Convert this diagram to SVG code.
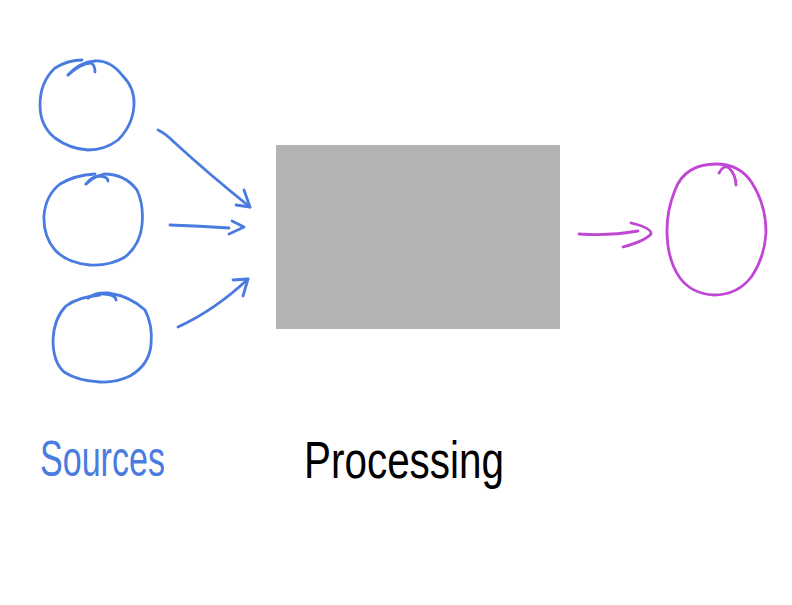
<svg xmlns="http://www.w3.org/2000/svg" width="792" height="605" viewBox="0 0 792 605">
<style>
.b{fill:none;stroke:#4a7be0;stroke-width:2.8;stroke-linecap:round;stroke-linejoin:round}
.p{fill:none;stroke:#c047d4;stroke-width:2.8;stroke-linecap:round;stroke-linejoin:round}
.t{font-family:"Liberation Sans",Arial,sans-serif;font-weight:normal}
</style>
<rect width="792" height="605" fill="#ffffff"/>
<g id="source1">
<path class="b" d="M68,75 Q80,62 95,61 Q110,60 122,75 Q135,88 134,105 Q133,125 118,140 Q105,150 88,150 Q70,149 55,138 Q40,126 40,105 Q40,82 55,68 Q68,60 82,60"/>
<path class="b" d="M68,75 Q80,64 90,63 Q95,64 95,72"/>
</g>
<g id="source2">
<path class="b" d="M86,184 Q95,176 104,174 Q125,174 137,190 Q144,205 142,225 Q140,245 125,257 Q110,266 90,265 Q67,263 55,250 Q43,236 44,215 Q46,195 60,184 Q75,175 95,174"/>
<path class="b" d="M86,184 Q92,176 100,176 Q108,177 108,181"/>
</g>
<g id="source3">
<path class="b" d="M88,298 Q96,292 108,293 Q130,296 145,310 Q153,325 151,345 Q149,365 130,376 Q115,383 100,382 Q78,381 64,372 Q53,362 53,340 Q54,318 66,306 Q78,297 100,295"/>
<path class="b" d="M88,298 Q96,293 104,294 Q116,295 116,300"/>
</g>
<g id="processing">
<rect x="276" y="145" width="284" height="184" fill="#b3b3b3"/>
</g>
<g id="sink">
<path class="p" d="M716,164 Q740,164 752,183 Q766,205 766,232 Q765,256 752,276 Q738,295 714,295 Q692,294 680,278 Q667,260 667,230 Q667,210 675,190 Q685,164 716,164"/>
<path class="p" d="M719,173 Q724,164 729,168 Q736,175 736,185"/>
</g>
<g id="connectors">
<path class="b" d="M158,130 Q165,133 175,143 Q210,175 250,207"/>
<path class="b" d="M236,205 L250,207 L244,190"/>
<path class="b" d="M170,225 Q200,226 229,228"/>
<path class="b" d="M232,221 L244,227 L229,234"/>
<path class="b" d="M178,327 Q215,310 248,279"/>
<path class="b" d="M233,280 L248,279 L243,296"/>
<path class="p" d="M579,234 Q610,236 638,231"/>
<path class="p" d="M631,223 Q652,228 651,234 Q645,241 623,247"/>
</g>
<text class="t" x="40" y="476" font-size="50" fill="#4a7be0" textLength="125" lengthAdjust="spacingAndGlyphs">Sources</text>
<text class="t" x="304" y="478" font-size="52" fill="#000000" textLength="200" lengthAdjust="spacingAndGlyphs">Processing</text>
</svg>
